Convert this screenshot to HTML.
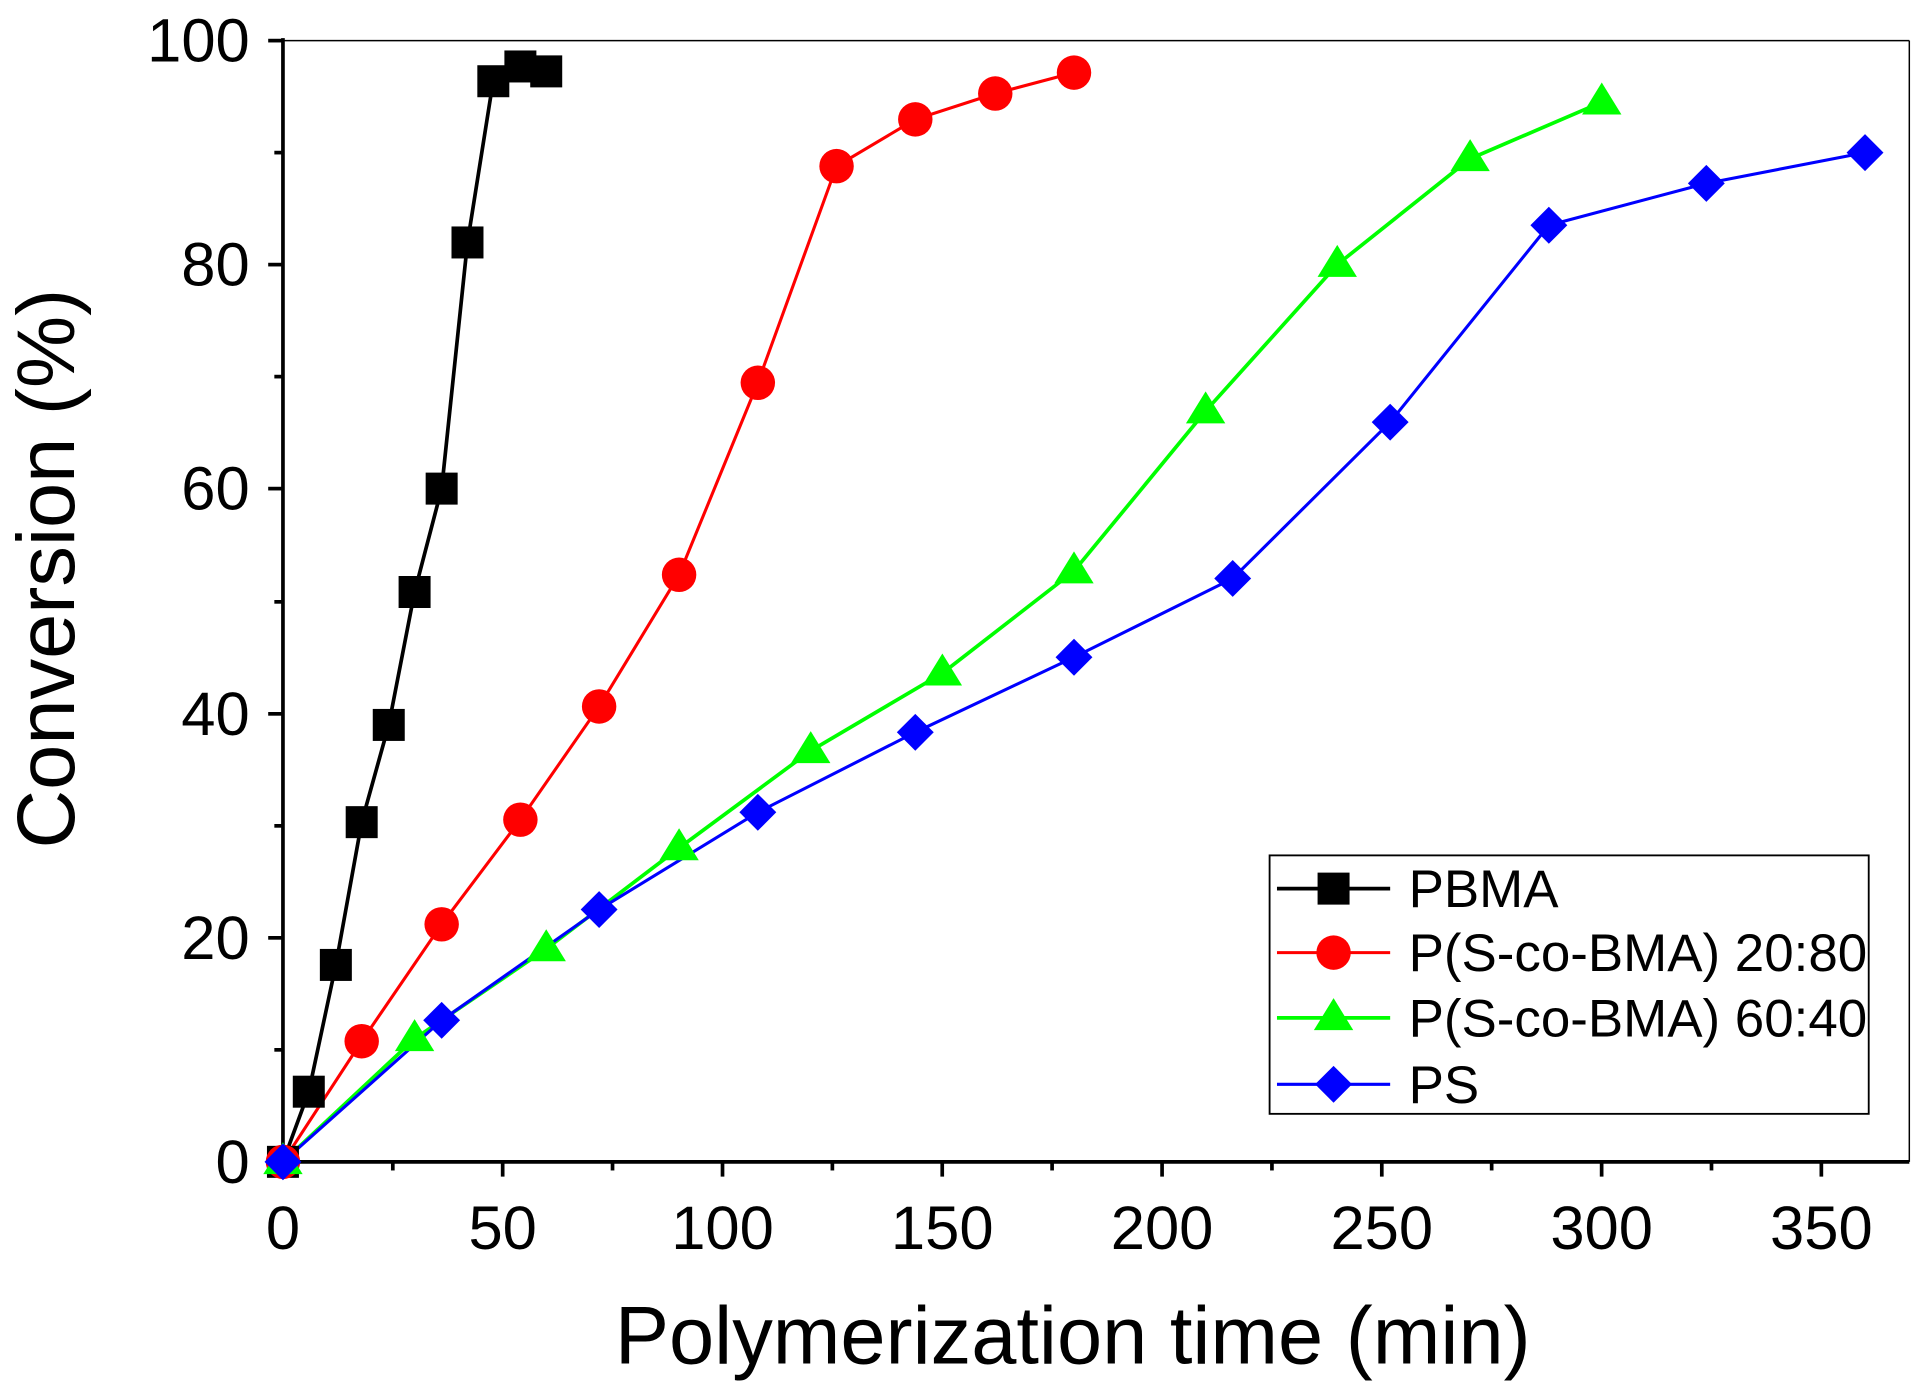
<!DOCTYPE html>
<html><head><meta charset="utf-8"><style>html,body{margin:0;padding:0;background:#fff}svg{display:block}</style></head>
<body>
<svg width="1929" height="1392" viewBox="0 0 1568 1131" preserveAspectRatio="none" xmlns="http://www.w3.org/2000/svg" font-family="Liberation Sans, sans-serif">
<rect width="1568" height="1131" fill="#fff"/>
<line x1="230" y1="33" x2="1552" y2="33" stroke="#000" stroke-width="1.2"/>
<line x1="1552" y1="33" x2="1552" y2="944" stroke="#000" stroke-width="1.2"/>
<line x1="230" y1="31" x2="230" y2="946" stroke="#000" stroke-width="3"/>
<line x1="228" y1="944" x2="1552" y2="944" stroke="#000" stroke-width="3"/>
<g stroke="#000" stroke-width="3">
<line x1="218" y1="944" x2="230" y2="944"/><line x1="218" y1="762" x2="230" y2="762"/><line x1="218" y1="580" x2="230" y2="580"/><line x1="218" y1="397" x2="230" y2="397"/><line x1="218" y1="215" x2="230" y2="215"/><line x1="218" y1="33" x2="230" y2="33"/>
<line x1="223" y1="853" x2="230" y2="853"/><line x1="223" y1="671" x2="230" y2="671"/><line x1="223" y1="489" x2="230" y2="489"/><line x1="223" y1="306" x2="230" y2="306"/><line x1="223" y1="124" x2="230" y2="124"/>
<line x1="230" y1="944" x2="230" y2="956"/><line x1="408.6" y1="944" x2="408.6" y2="956"/><line x1="587.3" y1="944" x2="587.3" y2="956"/><line x1="765.9" y1="944" x2="765.9" y2="956"/><line x1="944.6" y1="944" x2="944.6" y2="956"/><line x1="1123.2" y1="944" x2="1123.2" y2="956"/><line x1="1301.9" y1="944" x2="1301.9" y2="956"/><line x1="1480.5" y1="944" x2="1480.5" y2="956"/>
<line x1="319.3" y1="944" x2="319.3" y2="951"/><line x1="497.9" y1="944" x2="497.9" y2="951"/><line x1="676.6" y1="944" x2="676.6" y2="951"/><line x1="855.2" y1="944" x2="855.2" y2="951"/><line x1="1033.9" y1="944" x2="1033.9" y2="951"/><line x1="1212.5" y1="944" x2="1212.5" y2="951"/><line x1="1391.2" y1="944" x2="1391.2" y2="951"/>
</g>
<g font-size="50" text-anchor="end">
<text x="203" y="961">0</text><text x="203" y="779">20</text><text x="203" y="597">40</text><text x="203" y="414">60</text><text x="203" y="232">80</text><text x="203" y="50">100</text>
</g>
<g font-size="50" text-anchor="middle">
<text x="230" y="1015">0</text><text x="408.6" y="1015">50</text><text x="587.3" y="1015">100</text><text x="765.9" y="1015">150</text><text x="944.6" y="1015">200</text><text x="1123.2" y="1015">250</text><text x="1301.9" y="1015">300</text><text x="1480.5" y="1015">350</text>
</g>
<text x="872" y="1108" font-size="66" text-anchor="middle">Polymerization time (min)</text>
<text transform="translate(60,462) rotate(-90)" font-size="66" text-anchor="middle">Conversion (%)</text>
<polyline fill="none" stroke="#000" stroke-width="3" points="230,944 251,887 273,784 294,668 316,589 337,481 359,397 380,197 401,65 423,53 444,58"/>
<polyline fill="none" stroke="#f00" stroke-width="2.5" points="230,944 294,846 359,751 423,666 487,574 552,467 616,311 680,135 744,97 809,76 873,59"/>
<polyline fill="none" stroke="#0f0" stroke-width="3" points="230,944 337,844 444,771 552,689 659,610 766,547 873,464 980,334 1087,215 1195,129 1302,83"/>
<polyline fill="none" stroke="#00f" stroke-width="2.5" points="230,944 359,829 487,739 616,660 744,595 873,534 1002,470 1130,343 1259,183 1387,149 1516,124"/>
<g fill="#000">
<rect x="217" y="931" width="26" height="26"/><rect x="238" y="874" width="26" height="26"/><rect x="260" y="771" width="26" height="26"/><rect x="281" y="655" width="26" height="26"/><rect x="303" y="576" width="26" height="26"/><rect x="324" y="468" width="26" height="26"/><rect x="346" y="384" width="26" height="26"/><rect x="367" y="184" width="26" height="26"/><rect x="388" y="53" width="26" height="26"/><rect x="410" y="41" width="26" height="26"/><rect x="431" y="45" width="26" height="26"/>
</g>
<g fill="#f00">
<circle cx="230" cy="944" r="14"/><circle cx="294" cy="846" r="14"/><circle cx="359" cy="751" r="14"/><circle cx="423" cy="666" r="14"/><circle cx="487" cy="574" r="14"/><circle cx="552" cy="467" r="14"/><circle cx="616" cy="311" r="14"/><circle cx="680" cy="135" r="14"/><circle cx="744" cy="97" r="14"/><circle cx="809" cy="76" r="14"/><circle cx="873" cy="59" r="14"/>
</g>
<g fill="#0f0">
<polygon points="230,928 246,954 214,954"/><polygon points="337,828 353,854 321,854"/><polygon points="444,755 460,781 428,781"/><polygon points="552,673 568,699 536,699"/><polygon points="659,594 675,620 643,620"/><polygon points="766,531 782,557 750,557"/><polygon points="873,448 889,474 857,474"/><polygon points="980,318 996,344 964,344"/><polygon points="1087,199 1103,225 1071,225"/><polygon points="1195,113 1211,139 1179,139"/><polygon points="1302,67 1318,93 1286,93"/>
</g>
<g fill="#00f">
<polygon points="230,929 245,944 230,959 215,944"/><polygon points="359,814 374,829 359,844 344,829"/><polygon points="487,724 502,739 487,754 472,739"/><polygon points="616,645 631,660 616,675 601,660"/><polygon points="744,580 759,595 744,610 729,595"/><polygon points="873,519 888,534 873,549 858,534"/><polygon points="1002,455 1017,470 1002,485 987,470"/><polygon points="1130,328 1145,343 1130,358 1115,343"/><polygon points="1259,168 1274,183 1259,198 1244,183"/><polygon points="1387,134 1402,149 1387,164 1372,149"/><polygon points="1516,109 1531,124 1516,139 1501,124"/>
</g>
<rect x="1032" y="695" width="487" height="210" fill="#fff" stroke="#000" stroke-width="1.5"/>
<line x1="1038" y1="722" x2="1130" y2="722" stroke="#000" stroke-width="3"/><rect x="1071" y="709" width="26" height="26" fill="#000"/>
<line x1="1038" y1="774" x2="1130" y2="774" stroke="#f00" stroke-width="2.5"/><circle cx="1084" cy="774" r="14" fill="#f00"/>
<line x1="1038" y1="827" x2="1130" y2="827" stroke="#0f0" stroke-width="3"/><polygon points="1084,811 1100,837 1068,837" fill="#0f0"/>
<line x1="1038" y1="881" x2="1130" y2="881" stroke="#00f" stroke-width="2.5"/><polygon points="1084,866 1099,881 1084,896 1069,881" fill="#00f"/>
<g font-size="43">
<text x="1145" y="737">PBMA</text><text x="1145" y="789">P(S-co-BMA) 20:80</text><text x="1145" y="842">P(S-co-BMA) 60:40</text><text x="1145" y="896">PS</text>
</g>
</svg>
</body></html>
